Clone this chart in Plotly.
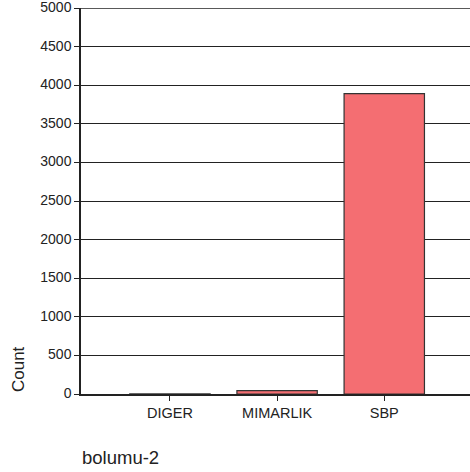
import plotly.graph_objects as go

categories = ["DIGER", "MIMARLIK", "SBP"]
counts = [1, 45, 3890]
y_ticks = [0, 500, 1000, 1500, 2000, 2500, 3000, 3500, 4000, 4500, 5000]

fig = go.Figure()
fig.add_trace(go.Bar(
    x=categories, y=counts, width=0.75,
    marker=dict(color="#F46E72", line=dict(color="#333333", width=1.2)),
))

fig.update_layout(
    width=470, height=472,
    margin=dict(l=81, r=0, t=8, b=78, autoexpand=False),
    paper_bgcolor="white", plot_bgcolor="white",
    showlegend=False,
    font=dict(family="Liberation Sans, Arial, sans-serif", color="#222222"),
    bargap=0.25,
)
fig.update_yaxes(
    range=[0, 5000], tickvals=y_ticks, ticktext=[str(v) for v in y_ticks],
    showgrid=True, gridcolor="#222222", gridwidth=1.3,
    showline=True, linecolor="#222222", linewidth=1.5,
    ticks="outside", ticklen=5, tickcolor="#222222",
    tickfont=dict(size=14), zeroline=False, automargin=False,
    ticklabeloverflow="allow", ticklabelshift=-1,
)
fig.update_xaxes(
    range=[-0.83, 2.8],
    showline=True, linecolor="#222222", linewidth=1.5,
    ticks="outside", ticklen=5, tickcolor="#222222",
    tickfont=dict(size=14.5), showgrid=False, automargin=False,
)
fig.add_shape(type="line", xref="paper", yref="y", x0=0, x1=1, y0=5000, y1=5000,
              line=dict(color="#222222", width=1.3))
fig.add_annotation(
    text="Count", xref="paper", yref="paper", x=-0.16, y=0.064,
    textangle=-90, showarrow=False, font=dict(size=17, color="#222222"),
    xanchor="center", yanchor="middle",
)
fig.add_annotation(
    text="bolumu-2", xref="paper", yref="paper", x=-0.003, y=-0.165,
    showarrow=False, font=dict(size=18.5, color="#222222"),
    xanchor="left", yanchor="middle",
)

fig.write_html("out.html", config={"displayModeBar": False},
               post_script="document.body.style.margin='0';document.body.style.padding='0';")
